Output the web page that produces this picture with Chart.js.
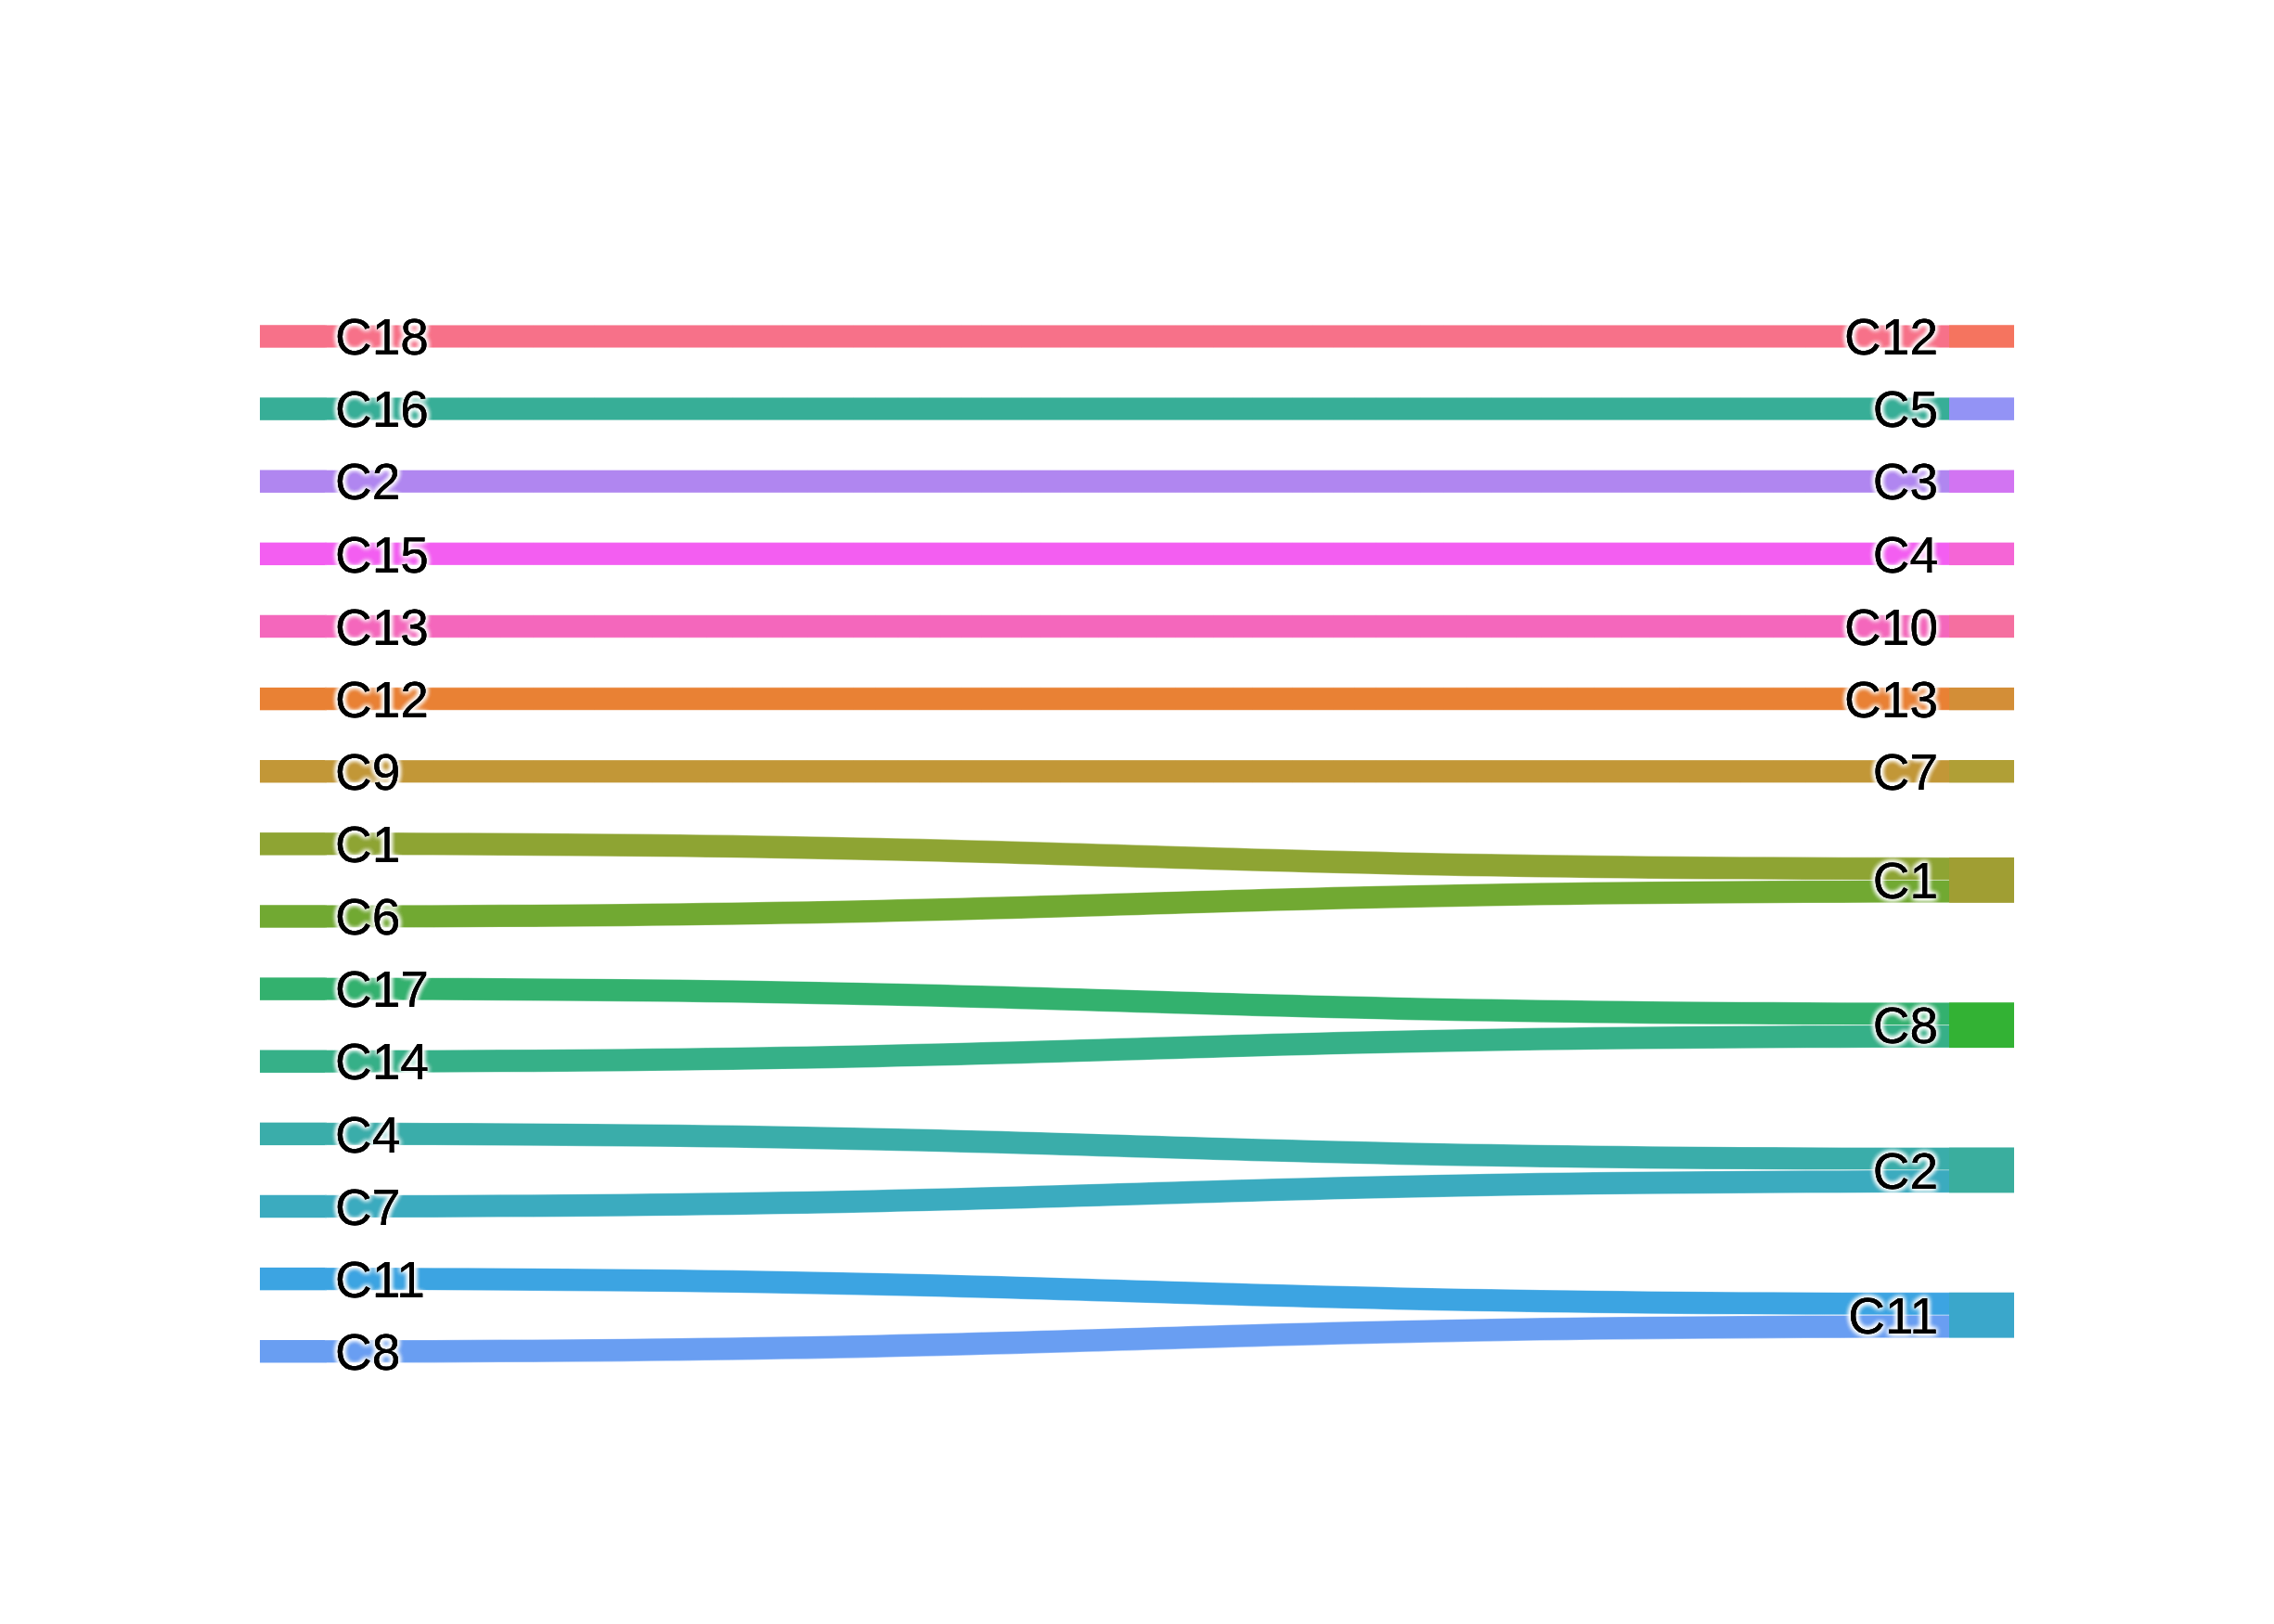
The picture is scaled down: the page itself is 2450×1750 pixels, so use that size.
<!DOCTYPE html>
<html>
<head>
<meta charset="utf-8">
<script src="https://cdn.jsdelivr.net/npm/chart.js@4/dist/chart.umd.min.js"></script>
<style>
  html, body { margin: 0; padding: 0; background: #ffffff; }
  #wrap { width: 2450px; height: 1750px; position: relative; }
</style>
</head>
<body>
<div id="wrap"><canvas id="c" width="2450" height="1750"></canvas></div>
<script>
// ---- data ----
const leftNodes  = ['C18','C16','C2','C15','C13','C12','C9','C1','C6','C17','C14','C4','C7','C11','C8'];
const rightNodes = ['C12','C5','C3','C4','C10','C13','C7','C1','C8','C2','C11'];
const linkSource = ['C18','C16','C2','C15','C13','C12','C9','C1','C6','C17','C14','C4','C7','C11','C8'];
const linkTarget = ['C12','C5','C3','C4','C10','C13','C7','C1','C1','C8','C8','C2','C2','C11','C11'];
const linkValue  = [1,1,1,1,1,1,1,1,1,1,1,1,1,1,1];

// ---- styles ----
const leftColors  = ['#f77189','#37ae97','#b086f0','#f35ef1','#f467bc','#e98134','#c29737','#8ea433',
                     '#71a932','#33b16e','#36b088','#3aadaa','#3babbf','#3ca4e2','#699ef2'];
const rightColors = ['#f5745f','#9393f5','#d274f2','#f565d6','#f56fa0','#d38e37','#b09f36','#a09e33',
                     '#33b234','#3aae9e','#3aa7cb'];
const VALUE_TO_Y = 0.313;      // y-units per unit of flow value
const NODE_W = 70 / 1890;      // node width in x-units
const FONT_PX = 55;
const FONT = FONT_PX + 'px "Liberation Sans", Arial, sans-serif';

// node layout in data units
const leftRow = {};
leftNodes.forEach((n, i) => { leftRow[n] = i; });
const leftTotal = {}, rightTotal = {}, rightSources = {};
linkSource.forEach((s, i) => {
  leftTotal[s] = (leftTotal[s] || 0) + linkValue[i];
  const t = linkTarget[i];
  rightTotal[t] = (rightTotal[t] || 0) + linkValue[i];
  (rightSources[t] = rightSources[t] || []).push(leftRow[s]);
});
const rightCenter = {};
rightNodes.forEach(n => {
  const arr = rightSources[n];
  rightCenter[n] = arr.reduce((a, b) => a + b, 0) / arr.length;
});

const pts = leftNodes.map(n => ({x: 0, y: leftRow[n]}))
  .concat(rightNodes.map(n => ({x: 1, y: rightCenter[n]})));

const sankeyPlugin = {
  id: 'sankeyDraw',
  afterDatasetsDraw(chart) {
    const ctx = chart.ctx;
    const xs = chart.scales.x, ys = chart.scales.y;
    const px = v => xs.getPixelForValue(v);
    const py = v => ys.getPixelForValue(v);
    const xL0 = px(0), xL1 = px(NODE_W), xR0 = px(1 - NODE_W), xR1 = px(1);
    const xm = (xL1 + xR0) / 2;

    const leftOff = {}, rightOff = {};
    leftNodes.forEach(n => { leftOff[n] = leftRow[n] - leftTotal[n] * VALUE_TO_Y / 2; });
    rightNodes.forEach(n => { rightOff[n] = rightCenter[n] - rightTotal[n] * VALUE_TO_Y / 2; });

    ctx.save();
    // nodes (drawn first so links overlap seamlessly)
    const drawNode = (x0, x1, cy, total, color) => {
      const y0 = py(cy - total * VALUE_TO_Y / 2), y1 = py(cy + total * VALUE_TO_Y / 2);
      ctx.fillStyle = color;
      ctx.fillRect(x0, y0, x1 - x0, y1 - y0);
    };
    leftNodes.forEach((n, i) => drawNode(xL0, xL1 + 2, leftRow[n], leftTotal[n], leftColors[i]));

    // links
    linkSource.forEach((s, i) => {
      const t = linkTarget[i];
      const h = linkValue[i] * VALUE_TO_Y;
      const sy0 = py(leftOff[s]), sy1 = py(leftOff[s] + h);
      const ty0 = py(rightOff[t]), ty1 = py(rightOff[t] + h);
      leftOff[s] += h; rightOff[t] += h;
      ctx.beginPath();
      ctx.moveTo(xL1, sy0);
      ctx.bezierCurveTo(xm, sy0, xm, ty0, xR0, ty0);
      ctx.lineTo(xR0, ty1);
      ctx.bezierCurveTo(xm, ty1, xm, sy1, xL1, sy1);
      ctx.closePath();
      ctx.fillStyle = leftColors[leftRow[s]];
      ctx.fill();
      // thin light edges along the curved sides only
      ctx.beginPath();
      ctx.moveTo(xL1, sy0);
      ctx.bezierCurveTo(xm, sy0, xm, ty0, xR0, ty0);
      ctx.moveTo(xR0, ty1);
      ctx.bezierCurveTo(xm, ty1, xm, sy1, xL1, sy1);
      ctx.strokeStyle = 'rgba(255,255,255,0.45)';
      ctx.lineWidth = 0.8;
      ctx.stroke();
    });

    rightNodes.forEach((n, i) => drawNode(xR0, xR1, rightCenter[n], rightTotal[n], rightColors[i]));

    // labels
    ctx.font = FONT;
    ctx.textBaseline = 'alphabetic';
    const drawLabel = (text, x, y, align) => {
      ctx.textAlign = align;
      ctx.fillStyle = '#000000';
      ctx.shadowColor = 'rgba(255,255,255,1)';
      ctx.shadowBlur = 6;
      ctx.shadowOffsetX = 0; ctx.shadowOffsetY = 0;
      for (let k = 0; k < 5; k++) ctx.fillText(text, x, y);
      ctx.shadowBlur = 0;
      ctx.fillText(text, x, y);
    };
    const capOff = FONT_PX * 0.716 / 2;
    leftNodes.forEach(n => drawLabel(n, xL1 + 11, py(leftRow[n]) + capOff, 'left'));
    rightNodes.forEach(n => drawLabel(n, xR0 - 12, py(rightCenter[n]) + capOff, 'right'));
    ctx.restore();
  }
};

new Chart(document.getElementById('c'), {
  type: 'scatter',
  data: { datasets: [{ data: pts, pointRadius: 0, pointHoverRadius: 0, showLine: false }] },
  options: {
    responsive: false,
    animation: false,
    devicePixelRatio: 1,
    layout: { padding: { left: 280, right: 280, top: 323.4, bottom: 254.7 } },
    plugins: { legend: { display: false }, tooltip: { enabled: false } },
    events: [],
    scales: {
      x: { type: 'linear', min: 0, max: 1, display: false },
      y: { type: 'linear', min: -0.5, max: 14.5, reverse: true, display: false }
    }
  },
  plugins: [sankeyPlugin]
});
</script>
</body>
</html>
